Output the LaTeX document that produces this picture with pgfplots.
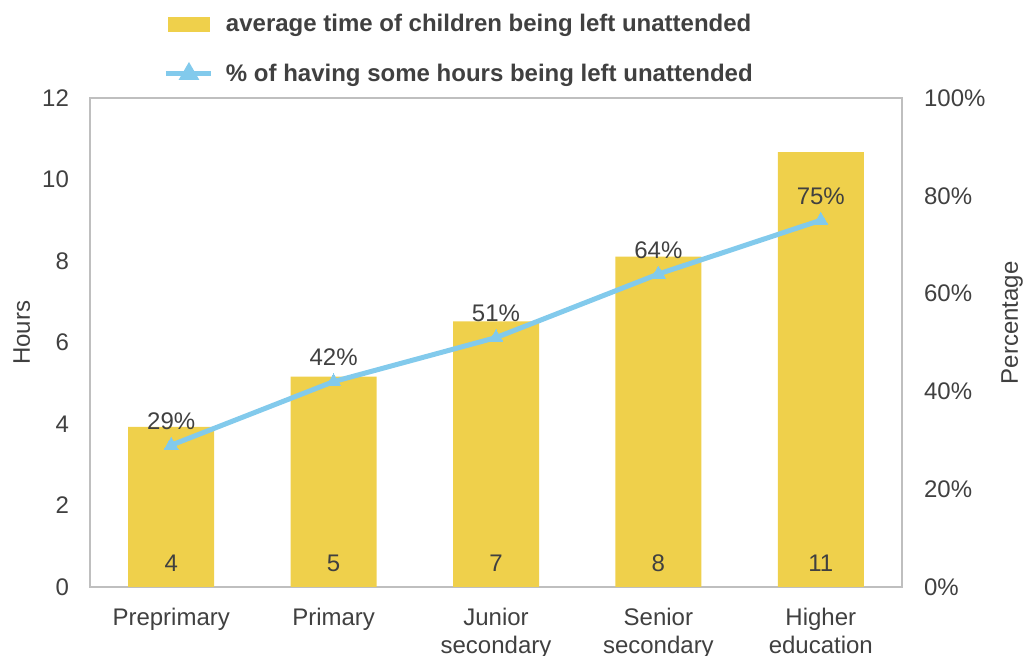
\documentclass[border=0pt]{standalone}
\usepackage{pgfplots}
\pgfplotsset{compat=1.18}
\usepackage{pgfplotstable}
\usepackage{fontspec}
\setmainfont{Liberation Sans}
\definecolor{barc}{RGB}{239,208,75}
\definecolor{linec}{RGB}{130,202,236}
\definecolor{txt}{RGB}{64,64,64}
\definecolor{framec}{RGB}{191,191,191}

\pgfplotstableread{
x h p
0 3.93 29
1 5.16 42
2 6.52 51
3 8.11 64
4 10.67 75
}\data

\begin{document}
\begin{tikzpicture}[font=\fontsize{12}{14}\selectfont, text=txt]
\pgfplotsset{
 common/.style={
  at={(0,0)}, anchor=south west, scale only axis, width=406pt, height=244.5pt,
  xmin=-0.5, xmax=4.5, ymin=0,
  major tick length=0pt,
  /pgf/number format/assume math mode=true,
  tick label style={font=\fontsize{12}{14}\selectfont, text=txt},
  label style={font=\fontsize{12}{14}\selectfont, text=txt},
 }
}
\begin{axis}[common, ymax=12, ytick={0,2,...,12},
  axis line style={draw=framec, line width=0.75pt},
  xtick={0,...,4},
  xticklabels={Preprimary, Primary, Junior\\secondary, Senior\\secondary, Higher\\education},
  xticklabel style={align=center, anchor=north, yshift=-7pt},
  yticklabel style={anchor=east, xshift=-7pt},
  ylabel={Hours},
  ylabel style={at={(axis description cs:-0.084,0.52)}, anchor=center},
]
\addplot[ybar, bar width=43pt, fill=barc, draw=none] table[x=x, y=h]{\data};
\addplot[only marks, mark=none, point meta=explicit,
  nodes near coords={\pgfmathprintnumber[fixed, precision=0, assume math mode=true]{\pgfplotspointmeta}},
  nodes near coords style={anchor=center, yshift=12pt, text=txt, font=\fontsize{12}{14}\selectfont}]
  table[x=x, y expr=0, meta=h]{\data};
\end{axis}
\begin{axis}[common, ymax=100, ytick={0,20,...,100},
  axis x line=none, axis y line*=right, axis line style={draw=none},
  yticklabel={\pgfmathprintnumber{\tick}\%},
  yticklabel style={anchor=west, xshift=7.5pt},
  ylabel={Percentage},
  ylabel style={at={(axis description cs:1.1355,0.54)}, anchor=center},
  legend style={at={(axis description cs:0.09,1.18)}, anchor=north west, draw=none, fill=none,
    inner sep=0pt, row sep=10.5pt, font=\bfseries\fontsize{12}{14}\selectfont, text=txt},
  legend cell align=left,
]
\addlegendimage{legend image code/.code={\fill[barc] (0pt,-3.5pt) rectangle (20.5pt,3.5pt);
   \path[draw=none, fill=none] (0pt,0pt) -- (27pt,0pt);}}
\addlegendentry{average time of children being left unattended}
\addplot[linec, line width=2.5pt, mark=triangle*, mark size=4pt,
  mark options={fill=linec, draw=linec, line width=0pt},
  point meta=explicit,
  nodes near coords={\pgfmathprintnumber{\pgfplotspointmeta}\%},
  nodes near coords style={anchor=center, yshift=12pt, text=txt, font=\fontsize{12}{14}\selectfont},
  legend image code/.code={\draw[linec, line width=2.5pt] (-1pt,0pt) -- (21.5pt,0pt);
     \fill[linec] (10.5pt,0pt) ++(90:3.5pt) -- ++(-120:6pt) -- ++(0:6pt) -- cycle;
     \path[draw=none, fill=none] (0pt,0pt) -- (27pt,0pt);}]
  table[x=x, y=p, meta=p]{\data};
\addlegendentry{\% of having some hours being left unattended}
\end{axis}
\pgfresetboundingbox
\path[use as bounding box] (-45pt,-34.5pt) rectangle (467pt,293.5pt);
\end{tikzpicture}
\end{document}
